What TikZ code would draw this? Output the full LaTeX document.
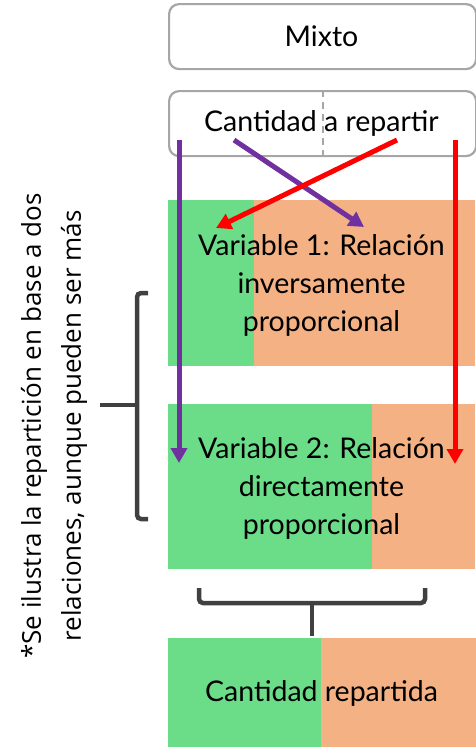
\documentclass[tikz,border=0pt]{standalone}
\usepackage{fontspec}
\setmainfont{Lato}
\newfontfamily\notefont{Open Sans}
\usetikzlibrary{arrows.meta}
\definecolor{gboxcol}{HTML}{6BDC87}
\definecolor{oboxcol}{HTML}{F4B183}
\definecolor{purplecol}{HTML}{7030A0}
\definecolor{redcol}{HTML}{FF0000}
\definecolor{bordercol}{HTML}{A6A6A6}
\definecolor{bracecol}{HTML}{404040}
\tikzset{
  roundbox/.style={draw=bordercol, line width=2.2pt, rounded corners=10pt, fill=white,
    minimum width=307pt, minimum height=65pt, anchor=north west, inner sep=0pt},
  gpart/.style={fill=gboxcol, anchor=north west, inner sep=0pt, minimum height=#1},
  opart/.style={fill=oboxcol, anchor=north east, inner sep=0pt, minimum height=#1},
  maintext/.style={font=\fontsize{28.5}{38}\selectfont, align=center, inner sep=0pt},
  parrow/.style={draw=purplecol, line width=5pt, -{Triangle[width=16pt,length=15pt]}},
  rarrow/.style={draw=redcol, line width=5pt, -{Triangle[width=16pt,length=15pt]}},
  bracestyle/.style={draw=bracecol, line width=4.5pt, rounded corners=4pt},
}
\begin{document}
\begin{tikzpicture}[x=1pt,y=-1pt]
\useasboundingbox (0,0) rectangle (476,747);
% top boxes
\node[roundbox] (mixto) at (168,3) {};
\node[maintext] (mixtot) at (321.5,36) {Mixto};
\node[roundbox] (cant) at (168,90) {};
\draw[bordercol, line width=2pt, dash pattern=on 7pt off 5pt] (cant.north) -- (cant.south);
\node[maintext] (cantt) at (321.5,123) {Cantidad a repartir};
% variable 1
\node[gpart=166pt, minimum width=86pt] (v1g) at (168,200) {};
\node[opart=166pt, minimum width=221pt] (v1o) at (475,200) {};
\node[maintext] (v1t) at (321.5,285) {Variable 1: Relación\\inversamente\\proporcional};
% variable 2
\node[gpart=165pt, minimum width=204pt] (v2g) at (168,404) {};
\node[opart=165pt, minimum width=103pt] (v2o) at (475,404) {};
\node[maintext] (v2t) at (321.5,488) {Variable 2: Relación\\directamente\\proporcional};
% result
\node[gpart=109pt, minimum width=153pt] (rg) at (168,638) {};
\node[opart=109pt, minimum width=155pt] (ro) at (476,638) {};
\node[maintext] (rt) at (321.5,693) {Cantidad repartida};
% arrows
\coordinate (p1s) at (179,140);
\coordinate (p1e) at (179,463);
\coordinate (p2s) at (234,140);
\coordinate (p2e) at (364,227);
\coordinate (r1s) at (397,140);
\coordinate (r1e) at (216,228);
\coordinate (r2s) at (455,140);
\coordinate (r2e) at (455,464);
\draw[parrow] (p1s) -- (p1e);
\draw[parrow] (p2s) -- (p2e);
\draw[rarrow] (r1s) -- (r1e);
\draw[rarrow] (r2s) -- (r2e);
% bottom brace
\coordinate (bb1) at (199,588);
\coordinate (bb2) at (425,588);
\coordinate (bbm) at (312,603);
\coordinate (bbt) at (312,636);
\draw[bracestyle] (bb1) -- (199,603) -- (425,603) -- (bb2);
\draw[bracecol, line width=4.5pt] (bbm) -- (bbt);
% left brace
\coordinate (lb1) at (148,293);
\coordinate (lb2) at (148,519);
\coordinate (lbm) at (137,405);
\coordinate (lbt) at (100,405);
\draw[bracestyle] (lb1) -- (137,293) -- (137,519) -- (lb2);
\draw[bracecol, line width=4.5pt] (lbm) -- (lbt);
% note
\node[rotate=90, font=\notefont\fontsize{26}{40}\selectfont, align=center, inner sep=0pt, anchor=center] (note) at (54,426) {*Se ilustra la repartición en base a dos\\relaciones, aunque pueden ser más};
\end{tikzpicture}
\end{document}
